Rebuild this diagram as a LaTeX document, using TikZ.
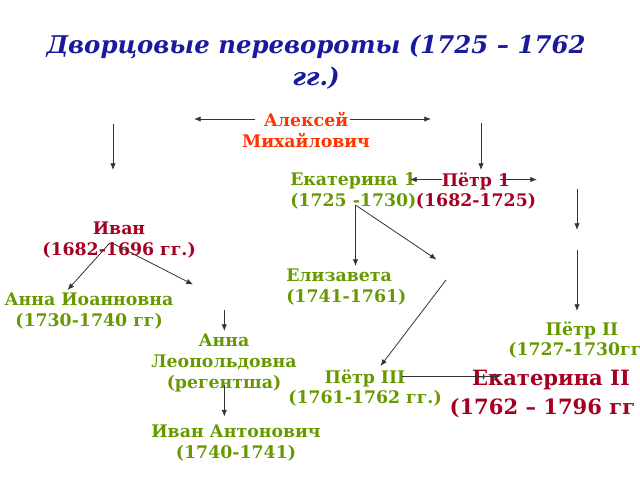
\documentclass[tikz,border=0pt]{standalone}
\usepackage{fontspec}
\setmainfont{DejaVu Serif}
\usetikzlibrary{arrows.meta}
\definecolor{grn}{HTML}{669900}
\definecolor{crim}{HTML}{A50021}
\definecolor{orng}{HTML}{FF3300}
\definecolor{navyt}{HTML}{1A1A9C}
\begin{document}
\begin{tikzpicture}[x=0.75pt,y=-0.75pt,
  lbl/.style={font=\fontsize{13}{15.5}\selectfont\bfseries, align=center, inner sep=0pt},
  gtxt/.style={lbl,text=grn}, rtxt/.style={lbl,text=crim},
  arr/.style={draw=black!80, line width=0.6pt, -{Latex[length=5pt,width=4pt]}}]
\useasboundingbox (0,0) rectangle (640,480);
\clip (0,0) rectangle (640,480);
% title
\node[font=\fontsize{18.3}{24}\selectfont\bfseries\itshape, text=navyt, align=center, inner sep=0pt] (title) at (316,62) {Дворцовые перевороты (1725 – 1762\\гг.)};
% nodes
\node[lbl, text=orng] (alexey) at (306,130) {Алексей\\Михайлович};
\node[gtxt, align=left, anchor=west] (ekat1) at (290,191) {Екатерина 1\\(1725 -1730)};
\node[rtxt] (petr1) at (476,191) {Пётр 1\\(1682-1725)};
\node[rtxt] (ivan) at (119,240) {Иван\\(1682-1696 гг.)};
\node[gtxt, align=left, anchor=west] (eliz) at (286,287) {Елизавета\\(1741-1761)};
\node[gtxt] (annai) at (89,311) {Анна Иоанновна\\(1730-1740 гг)};
\node[gtxt] (petr2) at (582,340) {Пётр II\\(1727-1730гг\phantom{.)}};
\node[gtxt] (annal) at (224,363) {Анна\\Леопольдовна\\(регентша)};
\node[gtxt] (petr3) at (365,388) {Пётр III\\(1761-1762 гг.)};
\node[lbl, text=crim, font=\fontsize{15.8}{21.5}\selectfont\bfseries] (ekat2) at (551,394) {Екатерина II\\(1762 – 1796 гг\phantom{.)}};
\node[gtxt] (ivana) at (236,443) {Иван Антонович\\(1740-1741)};
% connector ends
\coordinate (a1s) at (255,119); \coordinate (a1e) at (194,119);
\coordinate (a2s) at (350,119); \coordinate (a2e) at (431,119);
\coordinate (v1s) at (113,124); \coordinate (v1e) at (113,170);
\coordinate (v2s) at (481,123); \coordinate (v2e) at (481,170);
\coordinate (p1l) at (442,179.5); \coordinate (p1le) at (410,179.5);
\coordinate (p1r) at (500,179.5); \coordinate (p1re) at (537,179.5);
\coordinate (r1s) at (577,189); \coordinate (r1e) at (577,230);
\coordinate (r2s) at (577,250); \coordinate (r2e) at (577,311);
\coordinate (e1o) at (355.5,205); \coordinate (e1d) at (355.5,266); \coordinate (e1x) at (436.5,259.5);
\coordinate (xs) at (446,280); \coordinate (p3t) at (380.5,366);
\coordinate (p3r) at (402,376); \coordinate (p3re) at (501,376);
\coordinate (ivl) at (108,245); \coordinate (ivle) at (67.5,290);
\coordinate (ivr) at (112,243); \coordinate (ivre) at (193,284.5);
\coordinate (alt) at (224.3,310); \coordinate (alte) at (224.3,331);
\coordinate (alb) at (224.3,385); \coordinate (albe) at (224.3,416.5);
% connectors
\draw[arr] (a1s) -- (a1e);
\draw[arr] (a2s) -- (a2e);
\draw[arr] (v1s) -- (v1e);
\draw[arr] (v2s) -- (v2e);
\draw[arr] (p1l) -- (p1le);
\draw[arr] (p1r) -- (p1re);
\draw[arr] (r1s) -- (r1e);
\draw[arr] (r2s) -- (r2e);
\draw[arr] (e1o) -- (e1d);
\draw[arr] (e1o) -- (e1x);
\draw[arr] (xs) -- (p3t);
\draw[arr] (p3r) -- (p3re);
\draw[arr] (ivl) -- (ivle);
\draw[arr] (ivr) -- (ivre);
\draw[arr] (alt) -- (alte);
\draw[arr] (alb) -- (albe);
\end{tikzpicture}
\end{document}
